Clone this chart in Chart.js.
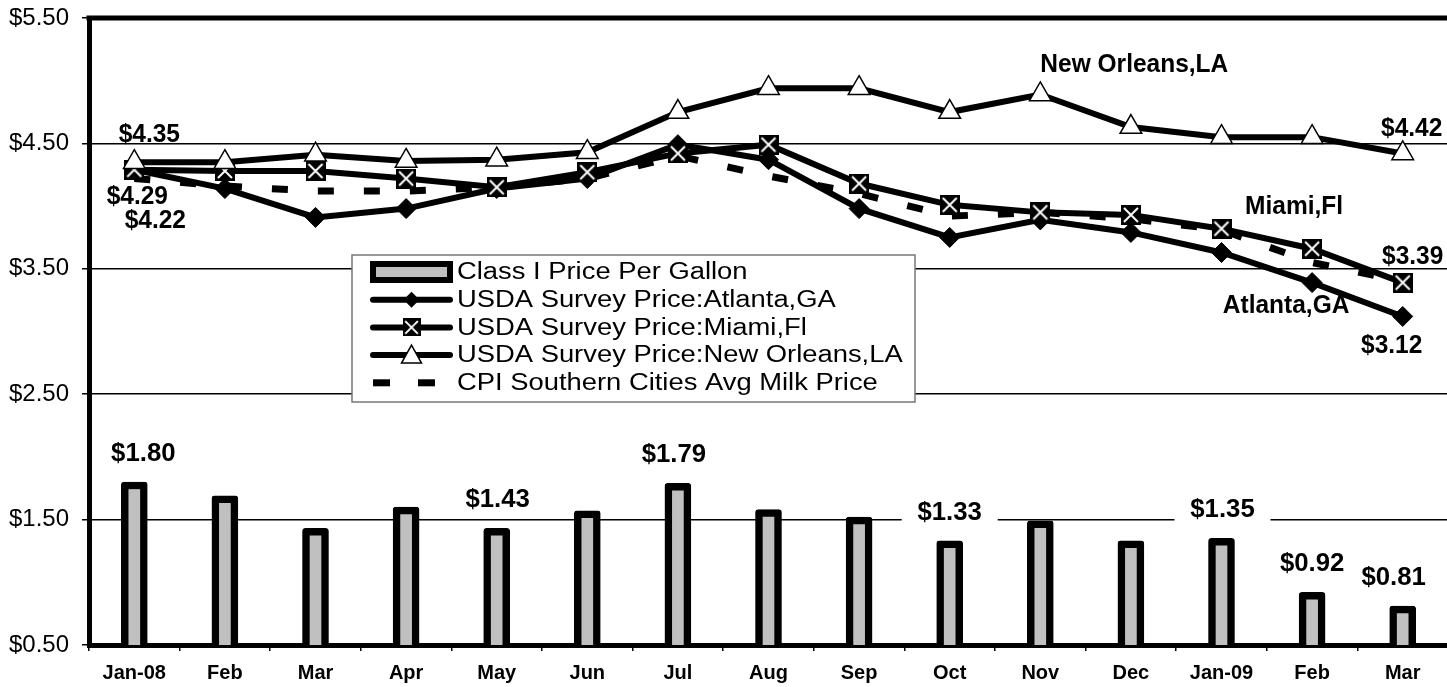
<!DOCTYPE html>
<html><head><meta charset="utf-8">
<script src="https://cdn.jsdelivr.net/npm/chart.js@4.4.0/dist/chart.umd.min.js"></script>
<style>
html,body{margin:0;padding:0;background:#fff;overflow:hidden;width:1447px;height:687px}
#wrap{position:absolute;left:0;top:0;width:1462px;height:687px}
</style></head>
<body><div id="wrap"><canvas id="c"></canvas></div>
<script>
// ---------- DATA ----------
const categories = ['Jan-08','Feb','Mar','Apr','May','Jun','Jul','Aug','Sep','Oct','Nov','Dec','Jan-09','Feb','Mar'];
const classIPrice = [1.80,1.69,1.43,1.60,1.43,1.57,1.79,1.58,1.52,1.33,1.49,1.33,1.35,0.92,0.81];
const atlanta     = [4.29,4.14,3.91,3.98,4.14,4.22,4.49,4.37,3.98,3.75,3.89,3.79,3.63,3.39,3.12];
const miami       = [4.29,4.28,4.28,4.22,4.15,4.27,4.42,4.49,4.18,4.01,3.95,3.93,3.82,3.66,3.39];
const newOrleans  = [4.35,4.35,4.41,4.36,4.37,4.43,4.75,4.94,4.94,4.75,4.89,4.63,4.55,4.55,4.42];
const cpiSouth    = [4.22,4.16,4.12,4.12,4.15,4.22,4.40,4.24,4.10,3.92,3.95,3.90,3.81,3.55,3.40];
const yTicks      = [0.5,1.5,2.5,3.5,4.5,5.5];
const seriesNames = ['Class I Price Per Gallon','USDA Survey Price:Atlanta,GA','USDA Survey Price:Miami,Fl','USDA Survey Price:New Orleans,LA','CPI Southern Cities Avg Milk Price'];

// annotation texts (which point they belong to)
const barLabelIdx   = [0,4,6,9,12,13,14];
const seriesLabels  = [
  {series:'newOrleans', i:0,  text:'$4.35'},
  {series:'miami',      i:0,  text:'$4.29'},
  {series:'cpiSouth',   i:0,  text:'$4.22'},
  {series:'newOrleans', i:10, text:'New Orleans,LA'},
  {series:'newOrleans', i:14, text:'$4.42'},
  {series:'miami',      i:13, text:'Miami,Fl'},
  {series:'miami',      i:14, text:'$3.39'},
  {series:'atlanta',    i:13, text:'Atlanta,GA'},
  {series:'atlanta',    i:14, text:'$3.12'}
];

// ---------- STYLE / LAYOUT (offsets in px) ----------
const FONT = '"Liberation Sans", Arial, Helvetica, sans-serif';
const seriesMap = {newOrleans, miami, atlanta, cpiSouth};
const seriesLabelOffsets = [[15,-27],[3,27],[21,43],[94,-29],[9,-24],[-18,-42],[10,-25],[-26,24],[-11,30]];
const barLabelDx = {0:9,4:1,6:-4,9:0,12:1,13:0,14:-9};
const barLabelWhiteBg = {9:true,12:true};

function makeSquareX(){
  const c=document.createElement('canvas'); c.width=20; c.height=20;
  const g=c.getContext('2d');
  g.fillStyle='#000'; g.fillRect(0,0,20,20);
  g.strokeStyle='#fff'; g.lineWidth=2;
  g.beginPath(); g.moveTo(3,3); g.lineTo(17,17); g.moveTo(17,3); g.lineTo(3,17); g.stroke();
  return c;
}
const sqX = makeSquareX();

function txt(ctx, s, x, y, size, bold, sx, align){
  ctx.save();
  ctx.translate(x,y); ctx.scale(sx||1,1);
  ctx.font=(bold?'bold ':'')+size+'px '+FONT;
  ctx.textAlign=align||'center'; ctx.textBaseline='middle';
  ctx.fillStyle='#000'; ctx.fillText(s,0,0);
  ctx.restore();
}

const decorPlugin = {
  id:'decor',
  afterDatasetsDraw(chart){
    const ctx=chart.ctx, a=chart.chartArea, xs=chart.scales.x, ys=chart.scales.y;
    // top frame line
    ctx.save();
    ctx.strokeStyle='#000'; ctx.lineWidth=5;
    ctx.beginPath(); ctx.moveTo(a.left-2.5,a.top); ctx.lineTo(chart.width,a.top); ctx.stroke();
    ctx.restore();

    // bar labels
    barLabelIdx.forEach(i=>{
      const x=xs.getPixelForValue(i)+barLabelDx[i];
      const y=ys.getPixelForValue(classIPrice[i])-28;
      const s='$'+classIPrice[i].toFixed(2);
      if(barLabelWhiteBg[i]){ ctx.fillStyle='#fff'; ctx.fillRect(x-48,y-14,96,28); }
      txt(ctx,s,x,y,25,true,1.03);
    });
    // series labels
    seriesLabels.forEach((L,k)=>{
      const d=seriesMap[L.series];
      const x=xs.getPixelForValue(L.i)+seriesLabelOffsets[k][0];
      const y=ys.getPixelForValue(d[L.i])+seriesLabelOffsets[k][1];
      txt(ctx,L.text,x,y,25,true,0.98);
    });

    // legend
    const lx=a.left+263, ly=255, lw=563, lh=147;
    ctx.save();
    ctx.fillStyle='#fff'; ctx.fillRect(lx,ly,lw,lh);
    ctx.strokeStyle='#777'; ctx.lineWidth=1.5; ctx.strokeRect(lx,ly,lw,lh);
    const rowY=i=>ly+17+i*27.7;
    const sx0=lx+18, sx1=lx+101, mid=(sx0+sx1)/2;
    // bar symbol
    ctx.fillStyle='#000'; ctx.fillRect(sx0,rowY(0)-11,sx1-sx0,22);
    ctx.fillStyle='#c0c0c0'; ctx.fillRect(sx0+6,rowY(0)-5,sx1-sx0-12,10);
    // line symbols
    for(let r=1;r<=3;r++){
      ctx.strokeStyle='#000'; ctx.lineWidth=6; ctx.lineCap='round';
      ctx.beginPath(); ctx.moveTo(sx0+3,rowY(r)); ctx.lineTo(sx1-3,rowY(r)); ctx.stroke();
    }
    ctx.lineCap='butt';
    // diamond
    ctx.fillStyle='#000'; ctx.beginPath();
    ctx.moveTo(mid-8,rowY(1)); ctx.lineTo(mid,rowY(1)-8); ctx.lineTo(mid+8,rowY(1)); ctx.lineTo(mid,rowY(1)+8); ctx.closePath(); ctx.fill();
    // square x
    ctx.drawImage(sqX,mid-9,rowY(2)-9,18,18);
    // triangle
    ctx.fillStyle='#fff'; ctx.strokeStyle='#000'; ctx.lineWidth=1.5;
    ctx.beginPath(); ctx.moveTo(mid,rowY(3)-10); ctx.lineTo(mid+10,rowY(3)+8); ctx.lineTo(mid-10,rowY(3)+8); ctx.closePath(); ctx.fill(); ctx.stroke();
    // dashes
    ctx.fillStyle='#000';
    ctx.fillRect(sx0+3,rowY(4)-3.5,17,7); ctx.fillRect(sx0+48,rowY(4)-3.5,17,7);
    ctx.restore();
    seriesNames.forEach((n,i)=>txt(ctx,n,lx+105,rowY(i)+1,23,false,1.19,'left'));
  }
};

const ctxEl=document.getElementById('c');
new Chart(ctxEl,{
  data:{
    labels:categories,
    datasets:[
      {type:'bar',label:seriesNames[0],data:classIPrice,backgroundColor:'#c0c0c0',borderColor:'#000',borderWidth:7.5,barThickness:26,borderRadius:3,order:5},
      {type:'line',label:seriesNames[1],data:atlanta,borderColor:'#000',borderWidth:6,pointStyle:'rectRot',pointRadius:10,pointBackgroundColor:'#000',pointBorderColor:'#000',pointBorderWidth:1,tension:0,order:3},
      {type:'line',label:seriesNames[2],data:miami,borderColor:'#000',borderWidth:6,pointStyle:sqX,tension:0,order:2},
      {type:'line',label:seriesNames[3],data:newOrleans,borderColor:'#000',borderWidth:6,pointStyle:'triangle',pointRadius:12.5,pointBackgroundColor:'#fff',pointBorderColor:'#000',pointBorderWidth:1.5,tension:0,order:1},
      {type:'line',label:seriesNames[4],data:cpiSouth,borderColor:'#000',borderWidth:7,borderDash:[16,30],borderCapStyle:'butt',pointRadius:0,tension:0,order:4}
    ]
  },
  options:{
    responsive:true, maintainAspectRatio:false, animation:false,
    devicePixelRatio:1,
    layout:{padding:{left:0,right:9.5,top:18,bottom:0}},
    plugins:{legend:{display:false},tooltip:{enabled:false}},
    scales:{
      x:{
        type:'category', offset:true,
        grid:{display:true,drawOnChartArea:false,drawTicks:true,tickLength:6,color:'#000',lineWidth:1.5,offset:true},
        border:{display:true,color:'#000',width:5},
        ticks:{color:'#000',font:{family:FONT,size:20,weight:'bold'},padding:10,maxRotation:0,autoSkip:false},
        afterFit(s){ s.height=42; s.paddingLeft=0; s.paddingRight=0; }
      },
      y:{
        min:0.5,max:5.5,
        afterBuildTicks(s){ s.ticks=yTicks.map(v=>({value:v})); },
        grid:{color:'#000',lineWidth:1.5,tickLength:7,tickColor:'#000'},
        border:{display:true,color:'#000',width:5},
        ticks:{color:'#000',font:{family:FONT,size:24},padding:13,callback:v=>'$'+Number(v).toFixed(2)},
        afterFit(s){ s.width=89; s.paddingTop=0; s.paddingBottom=0; }
      }
    }
  },
  plugins:[decorPlugin]
});
</script>
</body></html>
